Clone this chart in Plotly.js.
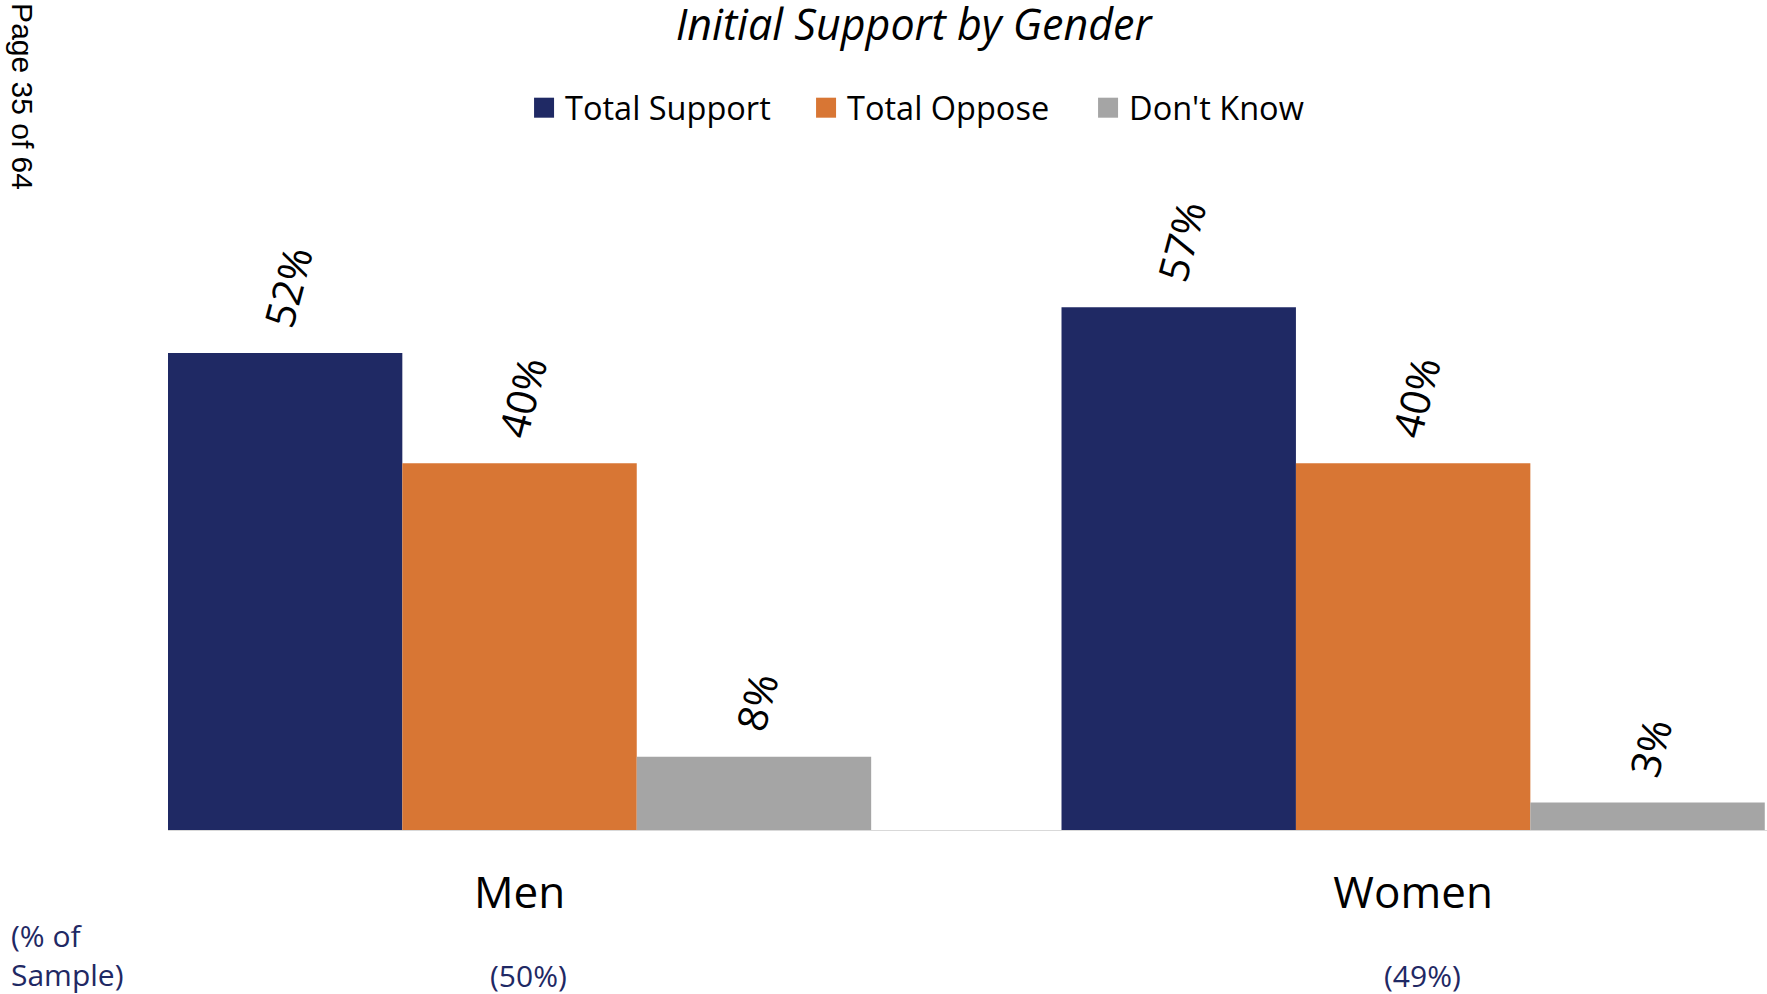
<!DOCTYPE html>
<html>
<head>
<meta charset="utf-8">
<script src="https://cdn.plot.ly/plotly-3.0.1.min.js"></script>
<style>html,body{margin:0;padding:0;background:#fff;}#chart{width:1767px;height:994px;}</style>
</head>
<body>
<div id="chart"></div>
<script>
const categories = ['Men', 'Women'];
const sampleShare = ['(50%)', '(49%)'];
const seriesNames = ['Total Support', 'Total Oppose', "Don't Know"];
const totalSupport = [52, 57];
const totalOppose = [40, 40];
const dontKnow = [8, 3];
const colors = ['#1F2964', '#D87634', '#A5A5A5'];

const seriesValues = [totalSupport, totalOppose, dontKnow];
const traces = seriesValues.map((vals, i) => ({
  type: 'bar',
  name: seriesNames[i],
  x: categories,
  y: vals,
  marker: {color: colors[i], line: {width: 0}},
  text: vals.map(v => '\u00A0\u2009' + v + '%'),
  textposition: 'outside',
  textangle: -75,
  constraintext: 'none',
  textfont: {family: 'Open Sans', size: 41, color: '#000'},
  cliponaxis: false,
  hoverinfo: 'skip'
}));

const annotations = categories.map((c, i) => ({
  x: c, xref: 'x', xshift: 9, y: -0.2265, yref: 'paper', yanchor: 'middle',
  text: sampleShare[i], showarrow: false,
  font: {family: 'Open Sans', size: 30, color: '#1F2964'}
}));
annotations.push({
  x: -0.0995, xref: 'paper', xanchor: 'left', y: -0.1946, yref: 'paper', yanchor: 'middle',
  text: '(% of<br>Sample)', showarrow: false, align: 'left',
  font: {family: 'Open Sans', size: 30, color: '#1F2964'}
});
annotations.push({
  x: -0.0907, xref: 'paper', xanchor: 'center', y: 1.1416, yref: 'paper', yanchor: 'middle',
  text: 'Page 35 of 64', showarrow: false, textangle: 90,
  font: {family: 'Liberation Sans', size: 30, color: '#000'}
});

const layout = {
  width: 1767, height: 994,
  margin: {l: 168, r: 0, t: 188, b: 163.5},
  paper_bgcolor: '#fff', plot_bgcolor: '#fff',
  barmode: 'group', bargap: 0.213, bargroupgap: 0,
  title: {text: '<i>Initial Support by Gender</i>', x: 0.517, xanchor: 'center', y: 0.975, yanchor: 'middle',
          font: {family: 'Open Sans', size: 43, color: '#000'}},
  showlegend: true,
  legend: {orientation: 'h', x: 0.2233, xanchor: 'left', y: 1.1245, yanchor: 'middle',
           font: {family: 'Open Sans', size: 32.5, color: '#000'}, itemwidth: 30, entrywidth: 237,
           traceorder: 'normal'},
  xaxis: {type: 'category', range: [-0.3934, 1.396], showline: true, linecolor: '#D9D9D9', linewidth: 1,
          ticks: '', showgrid: false, zeroline: false, ticklabelstandoff: 24,
          tickfont: {family: 'Open Sans', size: 44, color: '#000'}},
  yaxis: {range: [0, 70], visible: false, showgrid: false, zeroline: false},
  annotations: annotations
};

Plotly.newPlot('chart', traces, layout, {displayModeBar: false, staticPlot: true}).then(gd => {
  gd.querySelectorAll('.legend .legendpoints path').forEach(p => {
    p.setAttribute('d', 'M29,10H9V-10H29Z');
    p.removeAttribute('transform');
  });
});
</script>
</body>
</html>
